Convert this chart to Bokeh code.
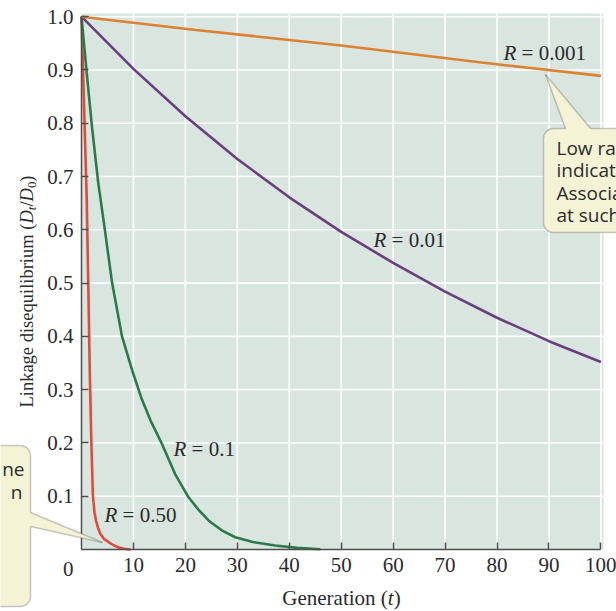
import math
from bokeh.plotting import figure
from bokeh.models import Range1d, FixedTicker, Label, BoxAnnotation, PolyAnnotation
from bokeh.embed import file_html
from bokeh.resources import INLINE

# ---------------- data ----------------
gen_r0001 = [0, 22, 50, 77, 100]
ld_r0001 = [1.0, 0.975, 0.946, 0.914, 0.889]

gen_r001 = [0, 10, 20, 30, 40, 50, 60, 70, 80, 90, 100]
ld_r001 = [1.0, 0.902, 0.813, 0.733, 0.661, 0.596, 0.538, 0.484, 0.435, 0.391, 0.352]

gen_r01 = [0, 1, 2, 3.2, 4.5, 5.9, 7.8, 9.8, 11.5, 13.3, 15.5, 18, 20.6, 22.5, 24.5, 27,
           29.6, 33, 37.3, 41.5, 46]
ld_r01 = [1.0, 0.895, 0.795, 0.69, 0.6, 0.5, 0.4, 0.335, 0.285, 0.242, 0.198, 0.142, 0.098,
          0.075, 0.054, 0.036, 0.023, 0.014, 0.0075, 0.003, 0.0005]

gen_r05 = [0, 0.5, 1.0, 1.3, 1.6, 1.9, 2.2, 2.5, 2.8, 3.2, 3.6, 4.3, 5.2, 6.2, 7.1, 8.2, 9.4]
ld_r05 = [1.0, 0.83, 0.66, 0.5, 0.33, 0.2, 0.1, 0.07, 0.054, 0.04, 0.03, 0.02, 0.014, 0.008,
          0.004, 0.0015, 0.0]

x_ticks = [10, 20, 30, 40, 50, 60, 70, 80, 90, 100]
x_tick_labels = ["10", "20", "30", "40", "50", "60", "70", "80", "90", "100"]
y_ticks = [0.1, 0.2, 0.3, 0.4, 0.5, 0.6, 0.7, 0.8, 0.9, 1.0]
y_tick_labels = ["0.1", "0.2", "0.3", "0.4", "0.5", "0.6", "0.7", "0.8", "0.9", "1.0"]

series_labels = ["0.001", "0.01", "0.1", "0.50"]
right_note = ["Low ra", "indicat", "Associa", "at such"]
left_note = ["ne", "n"]

# ---------------- layout helpers ----------------
CW, CH = 616, 611
FL, FR, FT, FB = 81, 603, 13, 549          # plot area in canvas pixels
X0, X1, Y0, Y1 = 0, 100.5, 0, 1.006       # plot area in data units


def px(x):
    return X0 + (x - FL) * (X1 - X0) / (FR - FL)


def py(y):
    return Y0 + (FB - y) * (Y1 - Y0) / (FB - FT)


SERIF = "Liberation Serif"
SANS = "Open Sans"
INK = "#2b2b2b"
AXIS = "#4e4e4e"
NOTE_FILL = "#f4f3d6"
BG = "#d9e5df"

W = {' ': 250, '(': 333, ')': 333, '/': 278, '=': 564, '.': 250,
     'L': 611, 'G': 722, 'D': 722, 'R': 667, 'a': 444, 'b': 500, 'd': 500,
     'e': 444, 'g': 500, 'i': 278, 'k': 500, 'l': 278, 'm': 778, 'n': 500,
     'o': 500, 'q': 500, 'r': 333, 's': 389, 't': 278, 'u': 500}
WI = {'D': 722, 'R': 611, 't': 278}


def tw(s, size, italic=False):
    tot = 0
    for ch in s:
        if ch.isdigit():
            tot += 500
        elif italic and ch in WI:
            tot += WI[ch]
        else:
            tot += W.get(ch, 500)
    return tot * size / 1000.0


p = figure(width=CW, height=CH,
           x_range=Range1d(px(0), px(CW)), y_range=Range1d(py(CH), py(0)),
           output_backend="svg", toolbar_location=None,
           min_border_left=0, min_border_right=0, min_border_top=0, min_border_bottom=0)
p.background_fill_color = "white"
p.border_fill_color = "white"
p.outline_line_color = None
p.xgrid.visible = False
p.ygrid.visible = False

# plot-area shading
p.add_layout(BoxAnnotation(left=X0, right=X1, bottom=Y0, top=Y1, fill_color=BG,
                           fill_alpha=1, line_alpha=0, level="underlay"))

# white grid lines from the tick arrays
p.segment(x0=x_ticks, y0=[Y0] * len(x_ticks), x1=x_ticks, y1=[Y1] * len(x_ticks),
          line_color="white", line_width=1.6)
p.segment(x0=[X0] * len(y_ticks), y0=y_ticks, x1=[X1] * len(y_ticks), y1=y_ticks,
          line_color="white", line_width=1.6)

# axes (fixed at the data origin)
for ax in (p.xaxis, p.yaxis):
    ax.fixed_location = 0
    ax.axis_line_color = AXIS
    ax.axis_line_width = 1.5
    ax.major_tick_line_color = AXIS
    ax.major_tick_line_width = 1.5
    ax.major_tick_in = 7
    ax.major_tick_out = 0
    ax.minor_tick_line_color = None
    ax.major_label_text_font = SERIF
    ax.major_label_text_font_size = "21px"
    ax.major_label_text_color = INK
    ax.major_label_standoff = 8

p.xaxis.ticker = FixedTicker(ticks=x_ticks)
p.xaxis.major_label_overrides = {t: l for t, l in zip(x_ticks, x_tick_labels)}
p.xaxis.bounds = (0, 100)
p.yaxis.ticker = FixedTicker(ticks=y_ticks)
p.yaxis.major_label_overrides = {t: l for t, l in zip(y_ticks, y_tick_labels)}
p.yaxis.bounds = (0, 1.0)

# curves
LW = 2.6
p.line(gen_r05, ld_r05, line_color="#e24a3b", line_width=LW)
p.line(gen_r01, ld_r01, line_color="#2b7b4a", line_width=LW)
p.line(gen_r001, ld_r001, line_color="#6a3f7f", line_width=LW)
p.line(gen_r0001, ld_r0001, line_color="#dc812f", line_width=LW)

# "0" corner label
p.add_layout(Label(x=0, y=0, x_offset=-8, y_offset=-19, text="0", text_align="right",
                   text_baseline="middle", text_font=SERIF, text_font_size="21px",
                   text_color=INK))

# series labels: italic R then "= value"  (positions: left edge, vertical centre)
lab_pos = [(503, 52), (373, 239), (173, 448), (104, 514)]
for (lx, ly), val in zip(lab_pos, series_labels):
    p.add_layout(Label(x=px(lx), y=py(ly), text="R", text_font=SERIF, text_font_size="21px",
                       text_font_style="italic", text_color=INK, text_baseline="middle"))
    p.add_layout(Label(x=px(lx), y=py(ly), x_offset=tw("R", 21, True) + tw(" ", 21),
                       text="= " + val, text_font=SERIF, text_font_size="21px",
                       text_color=INK, text_baseline="middle"))

# x-axis title: Generation (t)
XS = 21
parts = [("Generation (", "normal", XS), ("t", "italic", XS), (")", "normal", XS)]
total = sum(tw(s, sz, st == "italic") for s, st, sz in parts)
cx = 341 - total / 2
for s, st, sz in parts:
    p.add_layout(Label(x=px(cx), y=py(597), text=s, text_font=SERIF, text_font_size=f"{sz}px",
                       text_font_style=st, text_color=INK, text_baseline="middle"))
    cx += tw(s, sz, st == "italic")

# y-axis title (rotated): Linkage disequilibrium (D_t/D_0)
YS = 18.5
SUB = YS * 0.7
parts = [("Linkage disequilibrium (", "normal", YS, 0), ("D", "italic", YS, 0),
         ("t", "italic", SUB, 5), ("/", "normal", YS, 0), ("D", "italic", YS, 0),
         ("0", "normal", SUB, 5), (")", "normal", YS, 0)]
total = sum(tw(s, sz, st == "italic") for s, st, sz, _ in parts)
cy = 291 + total / 2
base_x = 26
for s, st, sz, sh in parts:
    p.add_layout(Label(x=px(base_x + sh), y=py(cy), text=s, angle=math.pi / 2,
                       text_font=SERIF, text_font_size=f"{sz:.1f}px", text_font_style=st,
                       text_color=INK, text_baseline="middle", text_align="left"))
    cy -= tw(s, sz, st == "italic")


# callout boxes
def callout(left, right, top, bottom, radius, tri):
    p.add_layout(BoxAnnotation(left=px(left), right=px(right), top=py(top), bottom=py(bottom),
                               fill_color=NOTE_FILL, fill_alpha=1, line_color=AXIS,
                               line_width=1.5, border_radius=radius))
    (ax_, ay_), (tx, ty), (bx, by), (cx_, cy_), (dx_, dy_) = tri
    p.add_layout(PolyAnnotation(xs=[px(ax_), px(tx), px(bx), px(dx_), px(cx_)],
                                ys=[py(ay_), py(ty), py(by), py(dy_), py(cy_)],
                                fill_color=NOTE_FILL, fill_alpha=1, line_alpha=0))
    for (sx, sy) in ((ax_, ay_), (bx, by)):
        p.add_layout(PolyAnnotation(xs=[px(sx), px(tx)], ys=[py(sy), py(ty)],
                                    fill_alpha=0, line_color=AXIS, line_width=1.5))


# right note: pointer from top edge up to the R=0.001 line
callout(543, 640, 128, 232, (10, 0, 0, 10),
        [(565, 128), (545, 74), (590, 128), (565.5, 133), (589.5, 133)])
# left note: pointer from right edge to the R=0.50 tail
callout(-30, 30, 445, 606, (0, 10, 10, 0),
        [(30, 512), (102, 542), (30, 526), (25, 512), (25, 526)])

for i, t in enumerate(right_note):
    p.add_layout(Label(x=px(556), y=py(147 + 22.5 * i), text=t, text_font=SANS,
                       text_font_size="19px", text_color=INK, text_baseline="middle"))
for t, (rx, ry) in zip(left_note, [(24, 468), (22, 491)]):
    p.add_layout(Label(x=px(rx), y=py(ry), text=t, text_font=SANS, text_font_size="19px",
                       text_color=INK, text_baseline="middle", text_align="right"))

open("out.html", "w").write(file_html(p, INLINE))
